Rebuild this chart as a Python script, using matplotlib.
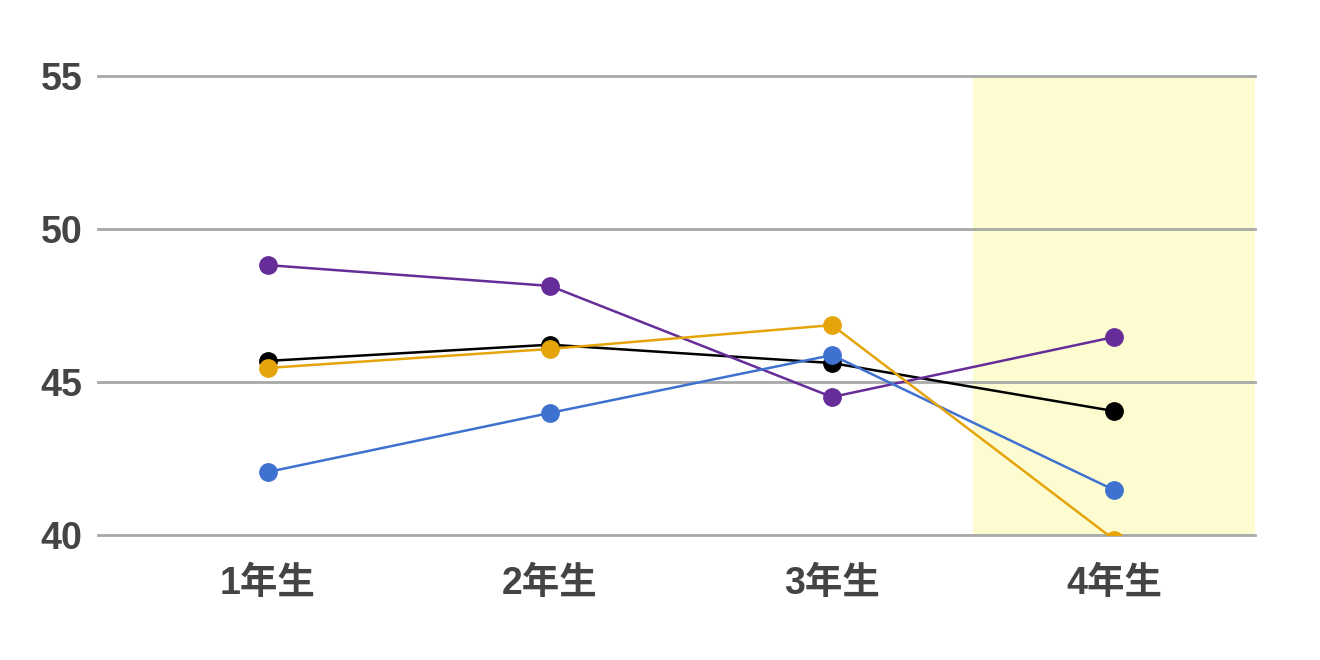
import matplotlib.pyplot as plt

plt.rcParams['font.family'] = ['Liberation Sans', 'Noto Sans CJK JP', 'DejaVu Sans']

grades = ["1年生", "2年生", "3年生", "4年生"]
black_vals = [45.69, 46.22, 45.62, 44.05]
purple_vals = [48.82, 48.14, 44.51, 46.47]
blue_vals = [42.06, 43.99, 45.88, 41.47]
orange_vals = [45.46, 46.08, 46.86, 39.85]
yticks = [40, 45, 50, 55]

fig = plt.figure(figsize=(13.2, 6.6), dpi=100)
ax = fig.add_axes([0.0742, 0.1894, 0.8766, 0.6954])

x = list(range(len(grades)))
ax.axvspan(2.5, 3.5, color='#fdfcd0', zorder=0, lw=0)
for v in yticks:
    ax.axhline(v, color='#a8a8a8', lw=2, zorder=1, clip_on=False)

series = [(black_vals, '#000000'), (purple_vals, '#662d98'),
          (blue_vals, '#3f72d0'), (orange_vals, '#e5a50a')]
for vals, c in series:
    ax.plot(x, vals, color=c, lw=1.8, marker='o', ms=12.5, zorder=3)

ax.set_xlim(-0.603, 3.5)
ax.set_ylim(40, 55)
ax.set_yticks(yticks)
ax.set_xticks(x)
ax.set_xticklabels(grades)
for s in ax.spines.values():
    s.set_visible(False)
ax.tick_params(length=0, labelsize=27, labelcolor='#444444')
ax.tick_params(axis='y', pad=11)
ax.tick_params(axis='x', pad=22)
for lab in ax.get_xticklabels() + ax.get_yticklabels():
    lab.set_fontweight('bold')

fig.savefig('out.png', dpi=100)
